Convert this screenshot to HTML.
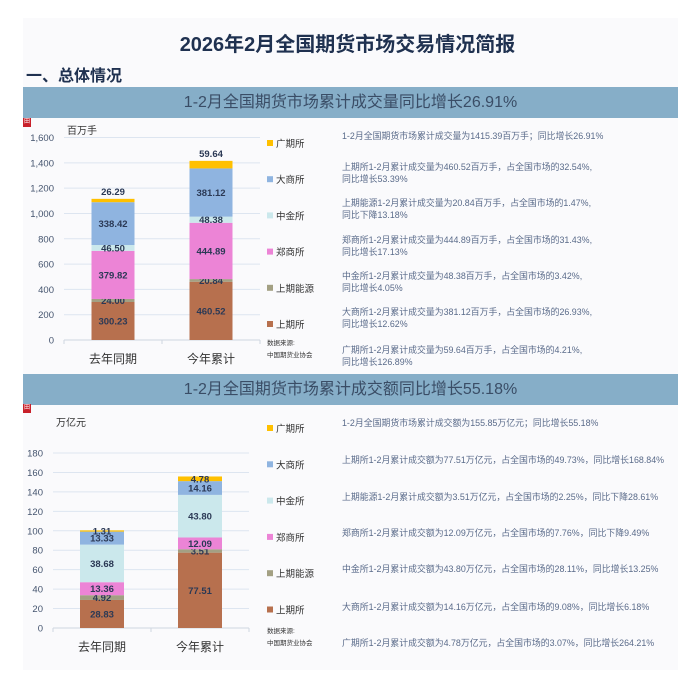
<!DOCTYPE html>
<html><head><meta charset="utf-8">
<style>
body{margin:0;width:695px;height:680px;background:#fff;font-family:"Liberation Sans","Noto Sans CJK SC",sans-serif;position:relative;overflow:hidden}
.abs{position:absolute;white-space:nowrap}
.bg{position:absolute;left:23px;top:18px;width:655px;height:652px;background:#fafafc}
.banner{position:absolute;left:23px;width:655px;height:31px;background:#86aec8;color:#3a4d66;font-size:16px;text-align:center;line-height:31px}
.note{position:absolute;left:342px;font-size:8.9px;color:#5a6b8a;line-height:12px;white-space:nowrap}
.logo{position:absolute;left:23px;width:8px;height:9px;background:#c8202a;color:#fff;font-size:6px;line-height:9px;text-align:center}
svg{position:absolute;left:0;top:0}
</style></head><body>
<div class="bg"></div>
<div class="abs" style="left:0;width:695px;text-align:center;top:28px;font-size:20px;font-weight:bold;color:#1f3150">2026年2月全国期货市场交易情况简报</div>
<div class="abs" style="left:26px;top:62px;font-size:16px;font-weight:bold;color:#1f3150">一、总体情况</div>
<div class="banner" style="top:87px">1-2月全国期货市场累计成交量同比增长26.91%</div>
<div class="banner" style="top:374px">1-2月全国期货市场累计成交额同比增长55.18%</div>
<div class="logo" style="top:118px">田</div>
<div class="logo" style="top:404px">田</div>

<div class="note" style="top:130px">1-2月全国期货市场累计成交量为1415.39百万手；同比增长26.91%</div>
<div class="note" style="top:161px">上期所1-2月累计成交量为460.52百万手，占全国市场的32.54%,<br>同比增长53.39%</div>
<div class="note" style="top:197px">上期能源1-2月累计成交量为20.84百万手，占全国市场的1.47%,<br>同比下降13.18%</div>
<div class="note" style="top:234px">郑商所1-2月累计成交量为444.89百万手，占全国市场的31.43%,<br>同比增长17.13%</div>
<div class="note" style="top:270px">中金所1-2月累计成交量为48.38百万手，占全国市场的3.42%,<br>同比增长4.05%</div>
<div class="note" style="top:306px">大商所1-2月累计成交量为381.12百万手，占全国市场的26.93%,<br>同比增长12.62%</div>
<div class="note" style="top:344px">广期所1-2月累计成交量为59.64百万手，占全国市场的4.21%,<br>同比增长126.89%</div>

<div class="note" style="top:417px">1-2月全国期货市场累计成交额为155.85万亿元；同比增长55.18%</div>
<div class="note" style="top:454px">上期所1-2月累计成交额为77.51万亿元，占全国市场的49.73%，同比增长168.84%</div>
<div class="note" style="top:491px">上期能源1-2月累计成交额为3.51万亿元，占全国市场的2.25%，同比下降28.61%</div>
<div class="note" style="top:527px">郑商所1-2月累计成交额为12.09万亿元，占全国市场的7.76%，同比下降9.49%</div>
<div class="note" style="top:563px">中金所1-2月累计成交额为43.80万亿元，占全国市场的28.11%，同比增长13.25%</div>
<div class="note" style="top:601px">大商所1-2月累计成交额为14.16万亿元，占全国市场的9.08%，同比增长6.18%</div>
<div class="note" style="top:637px">广期所1-2月累计成交额为4.78万亿元，占全国市场的3.07%，同比增长264.21%</div>

<svg id="chart" width="695" height="680"></svg>
<script>
const categories=["去年同期","今年累计"];
const seriesNames=["上期所","上期能源","郑商所","中金所","大商所","广期所"];
const seriesColors=["#b7704e","#a3a083","#ec84d6","#cbe8ec","#8fb4e0","#ffc000"];
const volShfe=[300.23,460.52];
const volIne=[24.00,20.84];
const volCzce=[379.82,444.89];
const volCffex=[46.50,48.38];
const volDce=[338.42,381.12];
const volGfex=[26.29,59.64];
const volTicks=[0,200,400,600,800,1000,1200,1400,1600];
const volTickLabels=["0","200","400","600","800","1,000","1,200","1,400","1,600"];
const amtShfe=[28.83,77.51];
const amtIne=[4.92,3.51];
const amtCzce=[13.36,12.09];
const amtCffex=[38.68,43.80];
const amtDce=[13.33,14.16];
const amtGfex=[1.31,4.78];
const amtTicks=[0,20,40,60,80,100,120,140,160,180];
const amtTickLabels=["0","20","40","60","80","100","120","140","160","180"];

const NS="http://www.w3.org/2000/svg";
const svg=document.getElementById('chart');
function mk(tag,attrs,parent){const e=document.createElementNS(NS,tag);for(const k in attrs)e.setAttribute(k,attrs[k]);(parent||svg).appendChild(e);return e;}

function drawChart(cfg){
  const g=mk('g',{});
  
  
  const y=v=>cfg.y0-(v-cfg.min)/(cfg.max-cfg.min)*(cfg.y0-cfg.y1);
  cfg.ticks.forEach((t,i)=>{
    const gl=mk('line',{x1:cfg.gx0,x2:cfg.gx1,y1:y(t),y2:y(t),stroke:i===0?'#cfd6e0':'#dde5f0','stroke-width':1},g);
    
    
    const tl=mk('text',{x:cfg.gx0-10,y:y(t)+3.5,'text-anchor':'end','font-size':9.5,fill:'#44546e'},g);
    tl.textContent=cfg.tickLabels[i];
    
    
  });
  [cfg.gx0,(cfg.gx0+cfg.gx1)/2,cfg.gx1].forEach(x=>{
    const tk=mk('line',{x1:x,x2:x,y1:cfg.y0,y2:cfg.y0+4,stroke:'#cfd6e0'},g);
    
    
  });
  const unit=mk('text',{x:cfg.unitX,y:cfg.unitY,'font-size':10,fill:'#333'},g);
  unit.textContent=cfg.unit;
  
  
  const band=(cfg.gx1-cfg.gx0)/categories.length;
  categories.forEach((c,ci)=>{
    const cx=cfg.gx0+band*(ci+0.5);
    let acc=0;
    cfg.series.forEach((s,si)=>{
      const v=s[ci];
      const top=y(acc+v),bot=y(acc);
      const r=mk('rect',{x:cx-cfg.bw/2,y:top,width:cfg.bw,height:bot-top,fill:seriesColors[si]},g);
      
      
      const above=(si===5&&cfg.topAbove);
      const lab=mk('text',{x:cx,y:(above?top-4:(top+bot)/2+3.5),'text-anchor':'middle','font-size':9.5,'font-weight':'bold',fill:'#2b3955'},g);
      lab.textContent=v.toFixed(2);
      
      
      acc+=v;
    });
    const cl=mk('text',{x:cx,y:cfg.catY,'text-anchor':'middle','font-size':12,fill:'#333'},g);
    cl.textContent=c;
    
    
  });
  for(let k=0;k<6;k++){
    const si=5-k;
    const ly=cfg.legY0+k*cfg.legStep;
    const sq=mk('rect',{x:267,y:ly-6,width:6,height:6,fill:seriesColors[si]},g);
    
    
    const lt=mk('text',{x:276,y:ly+1,'font-size':9.5,fill:'#333'},g);
    lt.textContent=seriesNames[si];
    
    
  }
  const s1=mk('text',{x:267,y:cfg.srcY,'font-size':6.5,fill:'#333'},g);
  s1.textContent='数据来源:';
  
  
  const s2=mk('text',{x:267,y:cfg.srcY+12,'font-size':6.5,fill:'#333'},g);
  s2.textContent='中国期货业协会';
  
  
}
drawChart({name:'volume-chart',min:0,max:1600,y0:340,y1:137.5,gx0:64,gx1:260,bw:43,ticks:volTicks,tickLabels:volTickLabels,topAbove:true,
  series:[volShfe,volIne,volCzce,volCffex,volDce,volGfex],unit:'百万手',unitX:67,unitY:134,catY:363,legY0:146,legStep:36.2,srcY:345});
drawChart({name:'turnover-chart',min:0,max:180,y0:628,y1:453,gx0:53,gx1:249,bw:44,ticks:amtTicks,tickLabels:amtTickLabels,topAbove:false,
  series:[amtShfe,amtIne,amtCzce,amtCffex,amtDce,amtGfex],unit:'万亿元',unitX:56,unitY:426,catY:651,legY0:431,legStep:36.3,srcY:633});
</script>
</body></html>
